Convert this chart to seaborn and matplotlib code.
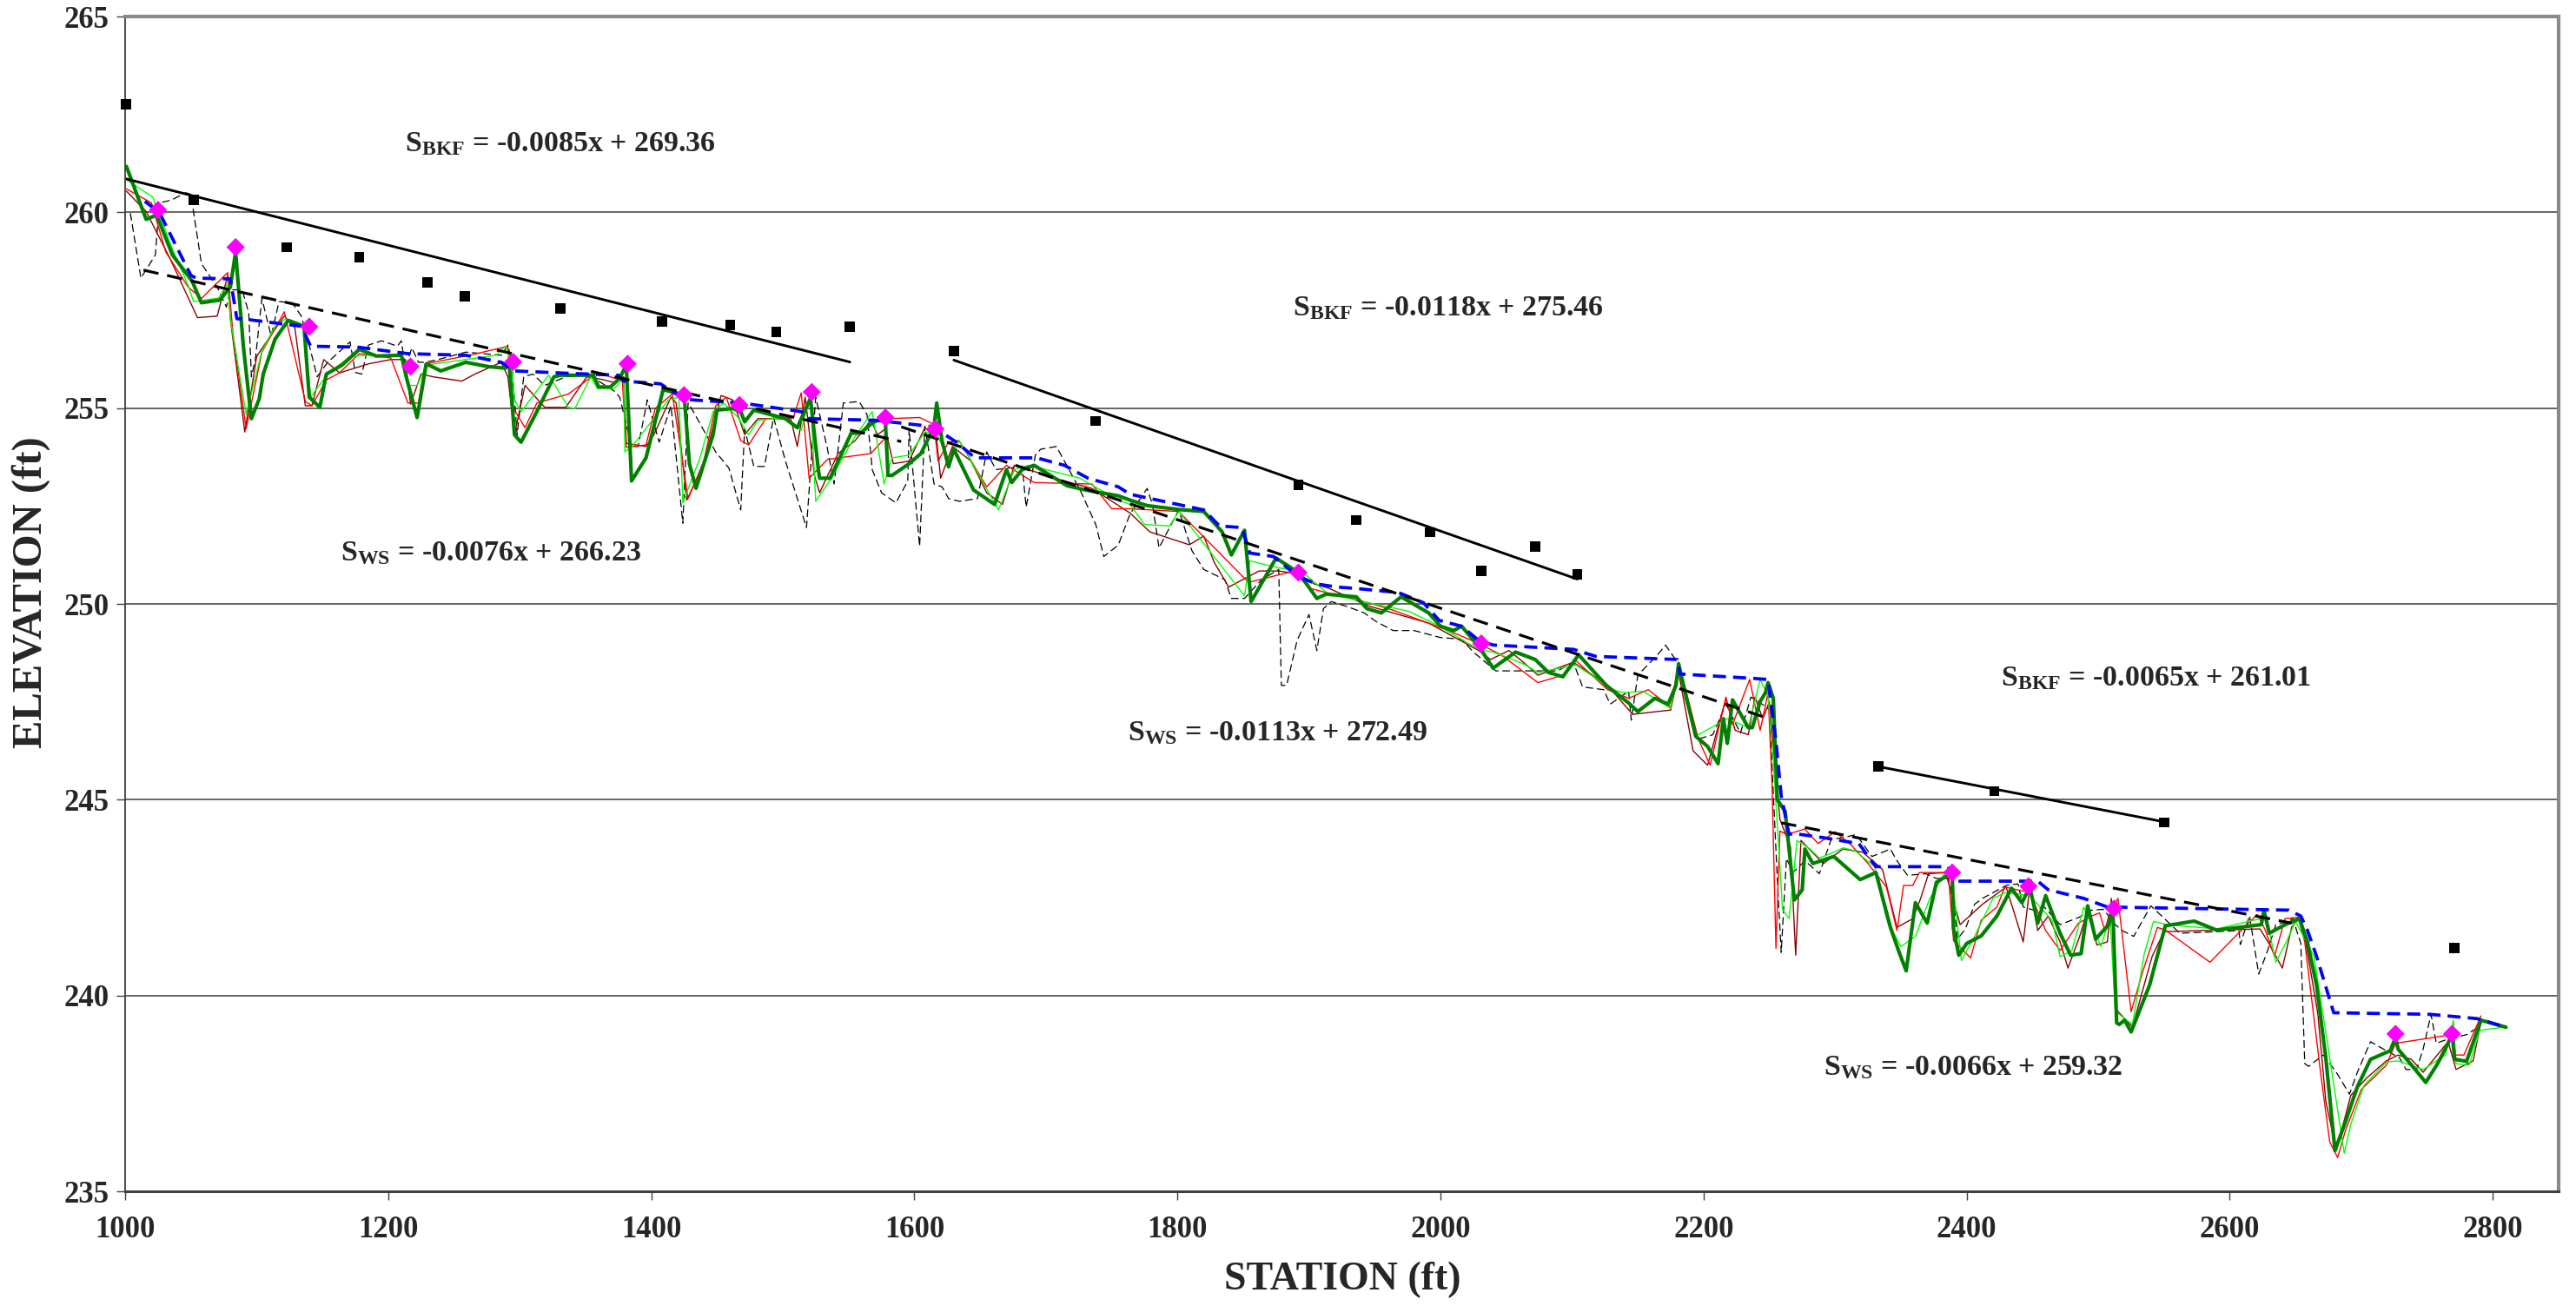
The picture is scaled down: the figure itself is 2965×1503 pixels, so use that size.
import matplotlib

matplotlib.use("Agg")
import matplotlib.pyplot as plt
import numpy as np
import seaborn as sns

# ── bankfull points (squares); group = which BKF fit they belong to (-1: none)
bkf_x = [1000.6, 1052, 1123, 1178, 1230, 1258, 1331, 1408, 1460, 1495, 1551,
         1630, 1738, 1892, 1936, 1992, 2031, 2072, 2104,
         2333, 2421, 2550, 2771]
bkf_y = [262.76, 260.31, 259.11, 258.86, 258.21, 257.86, 257.55, 257.21, 257.12, 256.95, 257.07,
         256.46, 254.67, 253.04, 252.14, 251.83, 250.84, 251.47, 250.75,
         245.85, 245.22, 244.42, 241.22]
bkf_group = [0] * 11 + [1] * 8 + [2] * 3 + [-1]

bkf_slope = [-0.0085, -0.0118, -0.0065]
bkf_icpt = [269.36, 275.46, 261.01]

# water-surface fits and the station range each one covers
ws_slope = [-0.0076, -0.0113, -0.0066]
ws_icpt = [266.23, 272.49, 259.32]
ws_start = [1014, 1590, 2259]
ws_end = [1590, 2249, 2647]

# ── surveyed features (magenta diamonds)
feat_x = [1025, 1084, 1140, 1217, 1295, 1382, 1425, 1467, 1522, 1578, 1616,
          1892, 2031, 2389, 2447, 2512, 2726, 2769]
feat_y = [260.06, 259.11, 257.08, 256.06, 256.18, 256.13, 255.33, 255.08, 255.41, 254.76, 254.47,
          250.80, 248.99, 243.14, 242.79, 242.22, 239.02, 239.02]

# ── main profile (thick dark green)
main_x = [1001, 1016, 1024, 1036, 1051, 1058, 1072, 1080, 1084, 1090, 1096, 1102, 1105, 1114, 1124,
          1136, 1140, 1148, 1153, 1165, 1178, 1191, 1210, 1214, 1222, 1229, 1240, 1259, 1276, 1289,
          1292, 1296, 1301, 1313, 1326, 1331, 1356, 1360, 1369, 1376, 1381, 1385, 1396, 1409, 1419,
          1425, 1429, 1434, 1447, 1450, 1462, 1468, 1471, 1478, 1490, 1502, 1511, 1521, 1527, 1528,
          1536, 1552, 1559, 1568, 1575, 1578, 1580, 1583, 1596, 1605, 1611, 1615, 1617, 1621, 1626,
          1630, 1645, 1661, 1670, 1674, 1682, 1691, 1716, 1730, 1755, 1764, 1777, 1801, 1820, 1834,
          1841, 1851, 1856, 1875, 1892, 1906, 1913, 1936, 1944, 1955, 1970, 1991, 2000, 2010, 2016,
          2029, 2040, 2057, 2072, 2082, 2093, 2105, 2126, 2143, 2150, 2163, 2173, 2179, 2181, 2186,
          2194, 2203, 2211, 2215, 2218, 2222, 2234, 2237, 2243, 2247, 2249, 2253, 2256, 2262, 2269,
          2275, 2277, 2283, 2299, 2319, 2331, 2342, 2349, 2354, 2361, 2370, 2377, 2389, 2390, 2394,
          2400, 2411, 2423, 2434, 2442, 2448, 2454, 2460, 2465, 2471, 2479, 2487, 2492, 2498, 2508,
          2511, 2514, 2516, 2520, 2525, 2539, 2551, 2573, 2590, 2624, 2626, 2630, 2642, 2653, 2659,
          2666, 2673, 2680, 2688, 2697, 2707, 2722, 2726, 2728, 2739, 2749, 2758, 2766, 2769, 2771,
          2780, 2791, 2810]
main_y = [261.17, 259.82, 259.93, 258.91, 258.24, 257.69, 257.76, 258.09, 258.98, 256.54, 254.73, 255.24, 255.87, 256.76, 257.24,
          257.09, 255.28, 255.02, 255.87, 256.10, 256.50, 256.33, 256.35, 255.76, 254.76, 256.13, 255.95, 256.17, 256.06, 256.02,
          256.13, 254.32, 254.13, 254.91, 255.80, 255.84, 255.84, 255.54, 255.54, 255.76, 256.10, 253.14, 253.73, 255.47, 255.39,
          255.33, 253.58, 252.95, 254.32, 254.95, 254.99, 254.91, 254.65, 254.95, 254.84, 254.73, 254.50, 255.25, 253.43, 253.21,
          253.21, 254.36, 254.36, 254.62, 254.73, 254.62, 253.28, 253.28, 253.58, 253.84, 254.25, 254.54, 255.13, 254.17, 253.50,
          253.95, 252.91, 252.54, 253.43, 253.10, 253.43, 253.54, 253.02, 252.91, 252.76, 252.65, 252.51, 252.41, 252.36, 251.84,
          251.25, 251.88, 250.06, 251.17, 250.80, 250.14, 250.25, 250.18, 249.88, 249.77, 250.18, 249.77, 249.43, 249.32, 249.43,
          248.92, 248.36, 248.77, 248.58, 248.25, 248.14, 248.70, 247.92, 247.47, 247.25, 247.59, 247.44, 247.92, 248.47, 247.73,
          246.62, 246.36, 245.92, 247.07, 246.44, 247.55, 246.84, 246.84, 247.51, 247.73, 247.99, 247.59, 245.00, 244.70, 242.44,
          242.70, 243.74, 243.37, 243.55, 242.96, 243.14, 241.74, 241.07, 240.63, 242.37, 241.85, 242.89, 243.14, 241.70, 241.03,
          241.33, 241.52, 242.03, 242.74, 242.37, 242.77, 241.85, 242.55, 242.11, 241.59, 241.03, 241.07, 242.29, 241.44, 241.81,
          242.26, 239.30, 239.26, 239.37, 239.07, 240.26, 241.78, 241.90, 241.67, 241.81, 242.18, 241.59, 241.81, 241.96, 241.37,
          240.26, 238.41, 236.04, 236.78, 237.67, 238.37, 238.59, 238.93, 238.63, 238.19, 237.78, 238.26, 238.78, 239.04, 238.37,
          238.32, 239.37, 239.19]

# ── stepped water surface (blue dashed)
wsp_x = [1015, 1026, 1050, 1054, 1080, 1085, 1089, 1134, 1141, 1176, 1215, 1259, 1286, 1296, 1336,
         1375, 1379, 1407, 1424, 1431, 1469, 1514, 1520, 1570, 1611, 1617, 1632, 1646, 1693, 1714,
         1732, 1755, 1764, 1820, 1832, 1849, 1855, 1873, 1892, 1906, 1921, 1934, 1968, 1987, 1999,
         2016, 2029, 2040, 2101, 2118, 2180, 2182, 2237, 2249, 2255, 2259, 2265, 2268, 2291, 2318,
         2331, 2386, 2390, 2454, 2462, 2489, 2507, 2645, 2654, 2659, 2666, 2679, 2752, 2788, 2810]
wsp_y = [260.28, 260.00, 258.39, 258.32, 258.30, 257.28, 257.28, 257.09, 256.58, 256.56, 256.39, 256.35, 256.17, 255.95, 255.89,
         255.84, 255.69, 255.62, 255.25, 255.21, 255.13, 254.91, 254.73, 254.69, 254.54, 254.46, 254.13, 253.73, 253.73, 253.54,
         253.21, 252.99, 252.80, 252.40, 251.99, 251.95, 251.30, 251.21, 250.69, 250.51, 250.43, 250.40, 250.29, 250.03, 249.58,
         249.43, 249.07, 248.95, 248.84, 248.66, 248.58, 248.21, 248.10, 248.07, 246.50, 245.10, 244.11, 244.14, 244.03, 243.88,
         243.29, 243.29, 242.92, 242.92, 242.70, 242.48, 242.26, 242.18, 242.03, 241.67, 241.00, 239.56, 239.52, 239.41, 239.19]

# ── other survey lines (thin)
red_x = [1001, 1020, 1031, 1048, 1058, 1078, 1082, 1092, 1104, 1121, 1137, 1142, 1153, 1163, 1178,
         1202, 1215, 1223, 1228, 1262, 1291, 1294, 1304, 1313, 1337, 1359, 1365, 1378, 1381, 1396,
         1403, 1416, 1428, 1440, 1449, 1457, 1468, 1474, 1487, 1508, 1514, 1520, 1534, 1567, 1577,
         1580, 1604, 1615, 1618, 1626, 1634, 1655, 1670, 1691, 1735, 1750, 1764, 1801, 1854, 1889,
         1900, 1945, 1964, 2006, 2029, 2046, 2074, 2093, 2103, 2127, 2143, 2158, 2175, 2181, 2196,
         2205, 2217, 2222, 2235, 2243, 2249, 2252, 2255, 2258, 2263, 2277, 2287, 2300, 2312, 2325,
         2339, 2347, 2352, 2359, 2364, 2386, 2390, 2403, 2411, 2423, 2429, 2448, 2460, 2471, 2485,
         2495, 2501, 2505, 2508, 2515, 2525, 2534, 2545, 2551, 2585, 2613, 2621, 2627, 2634, 2642,
         2652, 2657, 2669, 2676, 2682, 2688, 2700, 2719, 2726, 2769, 2771, 2778, 2791]
red_y = [260.60, 260.24, 258.98, 258.09, 257.80, 258.46, 256.91, 254.47, 256.43, 257.46, 255.17, 255.06, 255.72, 255.90, 256.39,
         256.28, 255.13, 255.13, 256.13, 256.35, 256.58, 255.06, 254.50, 255.13, 255.36, 255.91, 255.84, 255.70, 254.00, 254.06,
         254.99, 255.36, 252.69, 253.65, 255.06, 255.28, 254.17, 254.06, 254.73, 254.76, 255.39, 253.21, 253.69, 253.84, 254.21,
         254.73, 254.76, 254.58, 253.65, 254.13, 254.17, 252.99, 253.54, 253.10, 253.06, 252.43, 252.43, 252.36, 250.55, 250.84,
         250.40, 250.03, 249.84, 249.32, 248.99, 248.70, 247.99, 248.18, 248.55, 247.81, 247.59, 247.81, 247.36, 248.51, 246.55,
         245.88, 247.62, 246.92, 248.07, 246.77, 247.73, 245.44, 241.20, 244.20, 244.11, 244.25, 243.88, 244.18, 243.85, 243.37,
         242.77, 241.66, 242.81, 242.81, 243.14, 243.14, 241.40, 240.96, 241.92, 242.26, 242.77, 242.63, 241.66, 241.15, 241.85,
         242.03, 242.11, 241.66, 242.03, 242.48, 239.59, 240.63, 241.74, 241.67, 240.85, 241.81, 242.07, 241.67, 241.00, 241.96,
         242.00, 241.37, 238.04, 236.26, 235.86, 236.56, 237.60, 238.22, 238.78, 239.00, 238.48, 238.48, 239.48]

dkred_x = [1001, 1016, 1034, 1055, 1070, 1078, 1080, 1091, 1100, 1114, 1121, 1129, 1137, 1142, 1151,
           1163, 1185, 1202, 1213, 1217, 1225, 1234, 1256, 1266, 1286, 1291, 1296, 1304, 1319, 1335,
           1351, 1363, 1372, 1379, 1381, 1396, 1402, 1415, 1419, 1427, 1440, 1453, 1462, 1471, 1481,
           1506, 1511, 1517, 1524, 1528, 1542, 1555, 1567, 1572, 1578, 1584, 1596, 1608, 1614, 1617,
           1620, 1629, 1643, 1655, 1667, 1676, 1714, 1735, 1764, 1779, 1809, 1820, 1828, 1839, 1862,
           1877, 1892, 1904, 1915, 1945, 1991, 2029, 2038, 2052, 2063, 2074, 2101, 2127, 2146, 2175,
           2181, 2192, 2203, 2217, 2224, 2234, 2239, 2245, 2250, 2258, 2266, 2270, 2274, 2291, 2306,
           2321, 2336, 2347, 2359, 2365, 2371, 2384, 2395, 2412, 2430, 2443, 2448, 2454, 2462, 2471,
           2477, 2486, 2492, 2499, 2507, 2510, 2514, 2526, 2541, 2550, 2590, 2623, 2629, 2640, 2647,
           2652, 2657, 2667, 2673, 2681, 2692, 2704, 2719, 2728, 2738, 2747, 2766, 2772, 2785, 2791]
dkred_y = [260.54, 260.02, 258.83, 257.31, 257.35, 258.39, 257.28, 254.39, 256.32, 257.02, 257.35, 257.06, 255.06, 255.06, 256.24,
           255.90, 256.13, 256.24, 256.24, 255.10, 255.87, 255.80, 255.69, 255.87, 256.17, 255.80, 254.32, 255.58, 255.02, 255.02,
           255.80, 255.73, 255.65, 255.80, 254.10, 254.02, 254.32, 255.28, 255.13, 252.65, 253.58, 255.32, 255.21, 254.32, 254.73,
           254.73, 254.02, 255.28, 253.28, 252.84, 253.84, 254.17, 254.69, 254.32, 254.47, 253.58, 253.65, 254.50, 254.32, 254.17,
           253.21, 254.02, 253.65, 252.84, 252.54, 253.54, 253.14, 252.95, 252.32, 251.84, 251.51, 251.73, 251.06, 250.43, 250.84,
           250.84, 250.77, 250.51, 250.40, 249.95, 249.51, 248.81, 248.58, 248.81, 248.51, 248.18, 248.51, 247.92, 247.18, 247.29,
           248.25, 246.25, 245.88, 247.59, 246.77, 246.66, 247.62, 247.07, 247.50, 244.50, 243.80, 241.03, 243.96, 243.37, 243.74,
           243.66, 243.22, 241.74, 241.96, 242.48, 243.11, 243.14, 241.81, 242.33, 242.77, 241.37, 242.77, 241.66, 242.03, 241.37,
           240.70, 241.52, 242.18, 241.29, 241.37, 242.48, 239.63, 239.19, 241.00, 241.63, 241.67, 241.70, 241.37, 240.70, 241.74,
           241.96, 241.52, 239.52, 237.30, 236.04, 237.45, 237.89, 238.33, 238.48, 238.37, 238.04, 238.82, 238.11, 238.33, 239.33]

ltgrn_x = [1001, 1021, 1036, 1048, 1052, 1071, 1078, 1080, 1092, 1104, 1114, 1122, 1136, 1141, 1154,
           1171, 1185, 1210, 1215, 1222, 1229, 1259, 1282, 1289, 1294, 1296, 1301, 1322, 1337, 1342,
           1354, 1359, 1372, 1379, 1380, 1386, 1413, 1421, 1424, 1437, 1447, 1455, 1466, 1474, 1481,
           1502, 1514, 1521, 1525, 1537, 1553, 1568, 1577, 1583, 1596, 1608, 1617, 1626, 1634, 1643,
           1664, 1676, 1687, 1726, 1755, 1764, 1775, 1794, 1801, 1851, 1855, 1877, 1894, 1915, 1945,
           1976, 1999, 2029, 2040, 2063, 2074, 2103, 2131, 2139, 2154, 2175, 2181, 2194, 2218, 2234,
           2243, 2249, 2253, 2260, 2265, 2271, 2281, 2288, 2297, 2306, 2315, 2330, 2340, 2350, 2361,
           2372, 2383, 2389, 2396, 2406, 2420, 2430, 2448, 2465, 2471, 2480, 2489, 2502, 2509, 2513,
           2519, 2526, 2535, 2542, 2552, 2590, 2623, 2627, 2635, 2642, 2650, 2664, 2673, 2681, 2687,
           2692, 2702, 2719, 2728, 2747, 2764, 2770, 2772, 2782, 2790, 2808]
ltgrn_y = [260.83, 260.39, 259.06, 258.13, 257.72, 257.81, 258.17, 257.28, 254.84, 256.46, 257.09, 257.28, 257.06, 255.28, 255.87,
           256.32, 256.35, 256.35, 255.58, 255.58, 256.10, 256.24, 256.35, 256.58, 256.17, 255.21, 254.91, 255.84, 255.02, 254.99,
           255.80, 255.50, 255.50, 255.76, 253.88, 254.05, 255.21, 255.28, 252.58, 253.73, 254.91, 255.13, 254.76, 254.32, 254.69,
           254.76, 254.43, 255.36, 252.62, 253.21, 254.17, 254.91, 253.06, 253.73, 253.80, 254.39, 254.36, 253.65, 254.17, 253.65,
           252.40, 253.43, 253.54, 253.21, 252.65, 252.54, 252.03, 251.99, 252.36, 250.21, 251.10, 250.92, 250.84, 250.25, 250.03,
           249.81, 249.43, 248.84, 248.77, 248.47, 248.25, 248.44, 247.81, 247.73, 247.77, 247.33, 248.47, 246.62, 247.07, 246.84,
           248.07, 247.66, 246.00, 242.20, 241.96, 243.96, 243.74, 243.51, 243.63, 243.77, 243.70, 243.29, 241.88, 241.25, 241.51,
           242.48, 243.11, 243.03, 240.89, 241.51, 242.48, 242.63, 242.55, 241.92, 240.99, 241.15, 242.26, 241.25, 242.00, 239.59,
           239.44, 239.26, 241.07, 241.89, 241.81, 241.70, 241.96, 242.11, 240.85, 241.30, 241.89, 241.00, 239.07, 237.30, 235.97,
           236.71, 237.70, 238.30, 238.33, 238.11, 238.48, 239.37, 238.26, 238.22, 239.11, 239.19]

dash_x = [1004, 1012, 1023, 1026, 1035, 1046, 1050, 1055, 1058, 1070, 1077, 1080, 1089, 1094, 1096,
          1099, 1104, 1111, 1117, 1127, 1134, 1141, 1146, 1154, 1171, 1175, 1180, 1185, 1195, 1207,
          1210, 1213, 1218, 1223, 1228, 1238, 1259, 1286, 1291, 1294, 1298, 1303, 1310, 1319, 1335,
          1353, 1372, 1376, 1385, 1390, 1397, 1406, 1415, 1424, 1428, 1432, 1449, 1459, 1468, 1471,
          1478, 1486, 1493, 1502, 1518, 1525, 1534, 1539, 1546, 1558, 1564, 1568, 1575, 1586, 1595,
          1596, 1604, 1608, 1615, 1621, 1626, 1634, 1648, 1655, 1662, 1682, 1685, 1692, 1696, 1708,
          1726, 1738, 1744, 1755, 1764, 1770, 1777, 1781, 1786, 1801, 1811, 1820, 1836, 1841, 1851,
          1864, 1877, 1879, 1883, 1891, 1900, 1906, 1911, 1917, 1930, 1942, 1951, 1964, 1980, 2000,
          2016, 2025, 2042, 2089, 2101, 2108, 2124, 2129, 2143, 2145, 2150, 2165, 2171, 2181, 2186,
          2196, 2207, 2217, 2228, 2236, 2242, 2250, 2256, 2259, 2263, 2268, 2277, 2288, 2297, 2306,
          2316, 2328, 2342, 2347, 2355, 2369, 2377, 2386, 2390, 2393, 2399, 2406, 2412, 2430, 2439,
          2443, 2451, 2459, 2471, 2485, 2495, 2504, 2513, 2518, 2527, 2540, 2547, 2562, 2590, 2607,
          2608, 2615, 2622, 2628, 2635, 2642, 2648, 2654, 2657, 2660, 2671, 2681, 2691, 2697, 2707,
          2719, 2729, 2734, 2742, 2747, 2753, 2757, 2766, 2780, 2789]
dash_y = [259.98, 258.32, 258.91, 260.24, 260.31, 260.50, 260.46, 259.35, 258.69, 258.09, 257.58, 258.02, 258.02, 257.43, 255.80,
          256.24, 257.80, 256.84, 257.72, 257.69, 257.35, 256.47, 255.80, 256.17, 256.69, 255.91, 255.87, 256.61, 256.72, 256.58,
          256.72, 256.02, 256.54, 256.17, 256.17, 256.24, 256.43, 256.35, 256.61, 256.17, 254.32, 255.80, 255.87, 255.58, 255.80,
          255.84, 255.43, 255.28, 254.02, 254.02, 255.21, 254.13, 255.06, 252.06, 255.13, 254.91, 253.88, 253.47, 252.40, 254.47,
          253.51, 253.51, 254.76, 253.65, 251.95, 255.28, 253.95, 253.06, 255.13, 255.17, 254.84, 253.43, 252.84, 252.58, 253.14,
          254.47, 251.47, 254.54, 253.06, 252.99, 252.69, 252.62, 252.69, 253.88, 253.43, 253.51, 252.47, 253.80, 253.95, 254.02,
          252.91, 252.02, 251.21, 251.50, 252.30, 252.60, 252.95, 252.54, 251.43, 252.40, 251.36, 250.88, 250.62, 250.14, 250.14,
          250.62, 250.88, 247.92, 247.92, 249.07, 249.73, 248.81, 249.88, 250.06, 249.92, 249.77, 249.55, 249.32, 249.32, 249.14,
          249.10, 248.77, 248.29, 248.29, 248.51, 247.88, 247.81, 247.44, 247.77, 247.03, 248.18, 248.70, 248.95, 248.47, 247.59,
          246.55, 246.66, 247.44, 246.70, 247.62, 247.50, 247.30, 243.00, 241.10, 243.50, 243.14, 243.44, 243.11, 243.99, 244.03,
          244.11, 243.55, 243.74, 243.44, 243.07, 243.11, 242.99, 242.99, 242.48, 241.44, 241.70, 242.33, 242.48, 242.81, 242.85,
          242.26, 242.18, 242.26, 241.81, 241.99, 242.18, 242.20, 241.81, 241.66, 241.51, 242.29, 242.07, 241.59, 241.63, 241.66,
          241.30, 242.04, 240.55, 241.07, 241.81, 241.88, 241.96, 241.33, 238.26, 238.19, 238.48, 238.04, 237.48, 238.04, 238.82,
          238.59, 238.41, 238.11, 238.11, 238.63, 239.52, 238.78, 238.89, 239.00, 239.19]

eq_texts = ["$\\mathrm{S_{BKF}}$ = -0.0085x + 269.36",
            "$\\mathrm{S_{BKF}}$ = -0.0118x + 275.46",
            "$\\mathrm{S_{BKF}}$ = -0.0065x + 261.01",
            "$\\mathrm{S_{WS}}$ = -0.0076x + 266.23",
            "$\\mathrm{S_{WS}}$ = -0.0113x + 272.49",
            "$\\mathrm{S_{WS}}$ = -0.0066x + 259.32"]
eq_pos = [(1213, 261.75), (1888, 257.55), (2426, 248.1),
          (1164, 251.3), (1762, 246.7), (2291, 238.15)]

sns.set_theme(style="white")
plt.rcParams["font.family"] = ["Liberation Serif", "DejaVu Serif"]
plt.rcParams["font.weight"] = "bold"
plt.rcParams["mathtext.fontset"] = "custom"
plt.rcParams["mathtext.rm"] = "Liberation Serif:bold"
plt.rcParams["mathtext.it"] = "Liberation Serif:bold"
plt.rcParams["mathtext.bf"] = "Liberation Serif:bold"

W, H = 2965, 1503
fig = plt.figure(figsize=(W / 100, H / 100), dpi=100)
ax = fig.add_axes([144 / W, 1 - 1371 / H, (2945 - 144) / W, (1371 - 19) / H])

line_kw = dict(estimator=None, sort=False, ax=ax, legend=False)
sns.lineplot(x=dash_x, y=dash_y, color="black", lw=0.9, linestyle=(0, (7, 3.5)), **line_kw)
sns.lineplot(x=dkred_x, y=dkred_y, color="#8b0000", lw=1.0, **line_kw)
sns.lineplot(x=red_x, y=red_y, color="#ff0000", lw=1.0, **line_kw)
sns.lineplot(x=ltgrn_x, y=ltgrn_y, color="#00ff00", lw=1.0, **line_kw)
sns.lineplot(x=main_x, y=main_y, color="#008000", lw=3.0, **line_kw)
sns.lineplot(x=wsp_x, y=wsp_y, color="#0000ff", lw=2.7, linestyle=(0, (4, 2.2)), **line_kw)

# regression lines
bx, by, bg = np.array(bkf_x), np.array(bkf_y), np.array(bkf_group)
for i, (m, b) in enumerate(zip(bkf_slope, bkf_icpt)):
    xs = np.array([bx[bg == i].min(), bx[bg == i].max()])
    sns.lineplot(x=xs, y=m * xs + b, color="black", lw=2.1, **line_kw)
for m, b, x0, x1 in zip(ws_slope, ws_icpt, ws_start, ws_end):
    xs = np.array([x0, x1])
    sns.lineplot(x=xs, y=m * xs + b, color="black", lw=2.3, linestyle=(0, (5.5, 3.2)), **line_kw)

sns.scatterplot(x=bkf_x, y=bkf_y, marker="s", s=72, color="black", edgecolor="none", ax=ax,
                zorder=5, clip_on=False)
sns.scatterplot(x=feat_x, y=feat_y, marker="D", s=115, color="#ff00ff", edgecolor="none", ax=ax,
                zorder=6, clip_on=False)

for txt, (tx, ty) in zip(eq_texts, eq_pos):
    ax.text(tx, ty, txt, fontsize=24.5, fontweight="bold", ha="left", va="center")

ax.set_xlim(1000, 2850)
ax.set_ylim(235, 265)
ax.set_xticks(np.arange(1000, 2801, 200))
ax.set_yticks(np.arange(235, 266, 5))
ax.yaxis.grid(True, color="#3a3a3a", lw=1.1)
ax.xaxis.grid(False)
ax.set_axisbelow(True)
ax.tick_params(axis="both", direction="out", length=7, width=1, color="#404040",
               labelsize=25, bottom=True, left=True)
ax.tick_params(axis="x", pad=13)
ax.tick_params(axis="y", pad=6)
for lab in ax.get_xticklabels() + ax.get_yticklabels():
    lab.set_fontweight("bold")

for side, col, lw in [("top", "#8a8a8a", 3), ("right", "#8a8a8a", 3),
                      ("bottom", "#404040", 2.2), ("left", "#404040", 1.3)]:
    ax.spines[side].set_color(col)
    ax.spines[side].set_linewidth(lw)

ax.set_xlabel("")
ax.set_ylabel("")
fig.text(1545 / W, 1 - 1473 / H, "STATION (ft)", fontsize=33, fontweight="bold", ha="center", va="center")
fig.text(36 / W, 1 - 682 / H, "ELEVATION (ft)", fontsize=35, fontweight="bold", rotation=90,
         ha="center", va="center")

fig.savefig("out.png", dpi=100)
